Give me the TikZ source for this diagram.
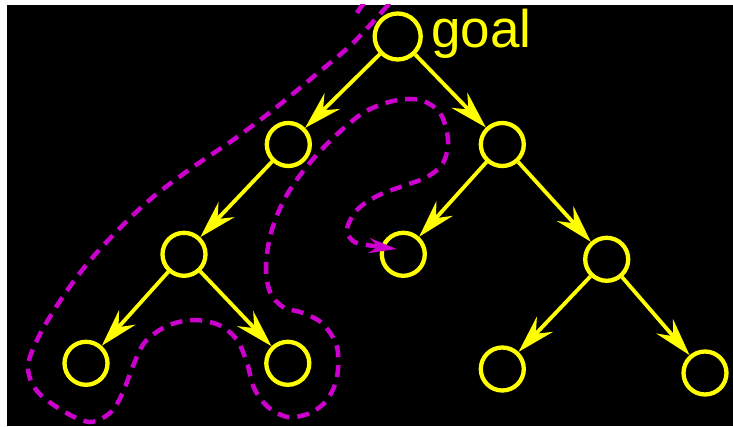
\documentclass[tikz,border=0pt]{standalone}
\usepackage{fontspec}
\setmainfont{Liberation Sans}
\usetikzlibrary{arrows.meta}
\definecolor{yel}{RGB}{255,255,0}
\definecolor{mag}{RGB}{204,0,204}
\tikzset{
  vert/.style={circle, draw=yel, line width=4.3pt, minimum size=43pt, inner sep=0pt},
  edge/.style={draw=yel, line width=3.8pt, -{Stealth[length=38pt,width=22pt,inset=13pt]}},
  trail/.style={draw=mag, line width=4.5pt, dash pattern=on 12pt off 8pt,
     -{Stealth[length=28pt,width=15pt,inset=9pt]}},
}
\begin{document}
\begin{tikzpicture}[x=1pt,y=-1pt]
\useasboundingbox (0,0) rectangle (733,427);
\fill[white] (0,0) rectangle (733,427);
\fill[black] (7,5) rectangle (733,426);
% nodes
\node[vert, minimum size=46pt] (g) at (397.7,36.5) {};
\node[anchor=base west, inner sep=0pt, text=yel, font=\fontsize{53}{60}\selectfont] (lbl) at (431,48) {goal};
\node[vert] (a) at (288.3,144.5) {};
\node[vert] (b) at (502.3,144.5) {};
\node[vert] (c) at (184,254.3) {};
\node[vert] (d) at (403.3,254.3) {};
\node[vert] (e) at (606.7,259.3) {};
\node[vert] (f) at (86,363.3) {};
\node[vert] (h) at (287.8,363.3) {};
\node[vert] (i) at (502.3,369) {};
\node[vert] (j) at (705,373) {};
% edges
\draw[edge] (g) -- (a);
\draw[edge] (g) -- (b);
\draw[edge] (a) -- (c);
\draw[edge] (c) -- (f);
\draw[edge] (c) -- (h);
\draw[edge] (b) -- (d);
\draw[edge] (b) -- (e);
\draw[edge] (e) -- (i);
\draw[edge] (e) -- (j);
% traversal trail
\coordinate (tend) at (397,249);
\begin{scope}
\clip (7,5) rectangle (733,426);
\draw[trail] (357,13) .. controls (372,-14) and (398,-10) .. (388,5)
  plot[smooth, tension=0.55] coordinates {
  (388,5) (353,43) (313,77) (273,110) (233,140) (193,167) (153,197)
  (120,228) (87,264) (60,301) (38,338) (28,367) (37,391) (63,411)
  (90,422) (111,412) (123,392) (133,366) (145,342) (167,326) (193,320)
  (219,325) (237,340) (247,363) (254,388) (268,407) (288,417) (310,413)
  (327,400) (337,377) (337,347) (323,324) (303,313) (283,307) (270,292)
  (266,266) (271,233) (284,200) (304,170) (331,140) (363,113) (393,101)
  (420,100) (440,113) (448,140) (443,163) (427,177) (403,186) (377,196)
  (357,210) (347,229) (353,241) (367,245) (tend)};
\end{scope}
\end{tikzpicture}
\end{document}
